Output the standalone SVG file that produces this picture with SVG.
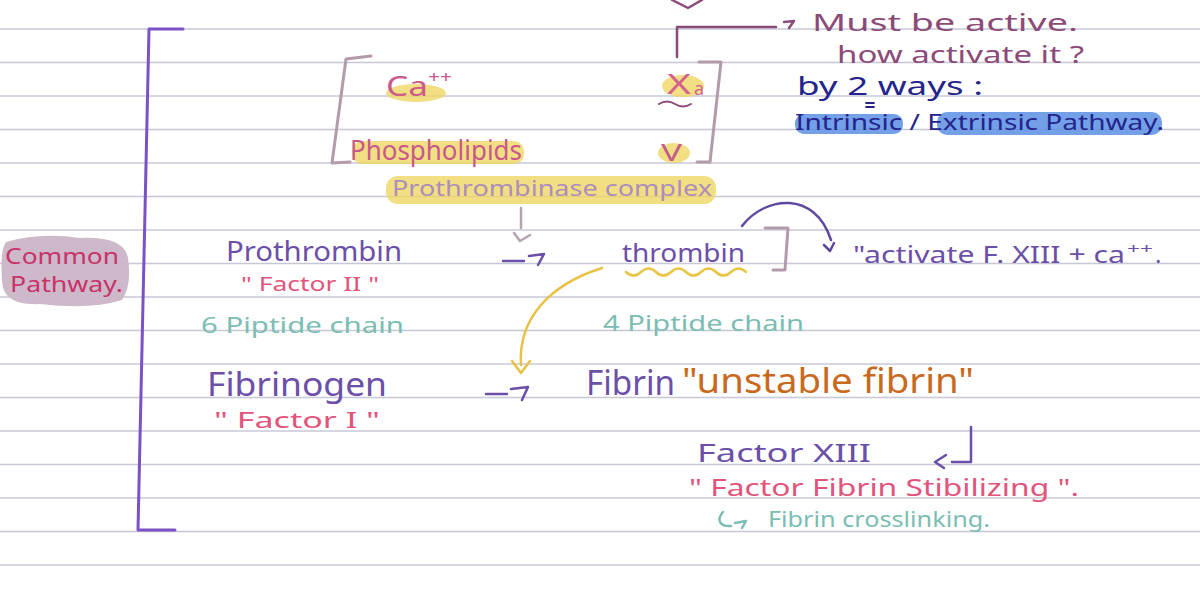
<svg xmlns="http://www.w3.org/2000/svg" width="1200" height="589" viewBox="0 0 1200 589">
<style>
text{font-family:"Noto Sans","DejaVu Sans",sans-serif;}
.rule{stroke:#c6c8d7;stroke-width:1.6;}
.pur{fill:#6b4fa8;}
.pink{fill:#e2547c;}
.teal{fill:#7bbdb3;}
.mag{fill:#8b4a77;}
.navy{fill:#24248c;}
.ln{fill:none;stroke-linecap:round;stroke-linejoin:round;}
.hl{fill:#efd45a;opacity:0.75;}
.bl{fill:#5b8fe3;opacity:0.85;}
</style>
<rect width="1200" height="589" fill="#ffffff"/>
<g id="rules">
<line class="rule" x1="0" y1="29" x2="1200" y2="29"/>
<line class="rule" x1="0" y1="62.5" x2="1200" y2="62.5"/>
<line class="rule" x1="0" y1="96" x2="1200" y2="96"/>
<line class="rule" x1="0" y1="129.5" x2="1200" y2="129.5"/>
<line class="rule" x1="0" y1="163" x2="1200" y2="163"/>
<line class="rule" x1="0" y1="196.5" x2="1200" y2="196.5"/>
<line class="rule" x1="0" y1="230" x2="1200" y2="230"/>
<line class="rule" x1="0" y1="263.5" x2="1200" y2="263.5"/>
<line class="rule" x1="0" y1="297" x2="1200" y2="297"/>
<line class="rule" x1="0" y1="330.5" x2="1200" y2="330.5"/>
<line class="rule" x1="0" y1="364" x2="1200" y2="364"/>
<line class="rule" x1="0" y1="397.5" x2="1200" y2="397.5"/>
<line class="rule" x1="0" y1="431" x2="1200" y2="431"/>
<line class="rule" x1="0" y1="464.5" x2="1200" y2="464.5"/>
<line class="rule" x1="0" y1="498" x2="1200" y2="498"/>
<line class="rule" x1="0" y1="531.5" x2="1200" y2="531.5"/>
<line class="rule" x1="0" y1="565" x2="1200" y2="565"/>
</g>
<g id="highlights">
<path d="M6 242 Q40 232 80 238 Q124 236 128 258 Q132 285 122 300 Q90 310 40 304 Q2 306 2 280 Q0 250 6 242 Z" fill="#cdb9c9"/>
<ellipse class="hl" cx="416" cy="93" rx="30" ry="9"/>
<rect class="hl" x="352" y="141" width="172" height="23" rx="10"/>
<ellipse class="hl" cx="683" cy="86" rx="21" ry="11"/>
<ellipse class="hl" cx="674" cy="153" rx="16" ry="10"/>
<rect class="hl" x="386" y="176" width="330" height="28" rx="12"/>
<rect class="bl" x="795" y="114" width="108" height="20" rx="9"/>
<rect class="bl" x="937" y="112" width="225" height="23" rx="10"/>
</g>
<g id="brackets">
<path class="ln" d="M183 29 L149 29 L138 530 L175 530" stroke="#7a52c6" stroke-width="3"/>
<path class="ln" d="M371 56 L346 59 L332 163 L350 162" stroke="#b39bac" stroke-width="3"/>
<path class="ln" d="M699 62 L721 62 L710 162 L697 162" stroke="#b39bac" stroke-width="3"/>
<path class="ln" d="M765 228 L788 228 L785 270 L773 270" stroke="#b39bac" stroke-width="3"/>
</g>
<g id="n-common"><text x="5" y="264" font-size="21" fill="#c8336a" textLength="114" lengthAdjust="spacingAndGlyphs">Common</text><text x="10" y="292" font-size="21" fill="#c8336a" textLength="113" lengthAdjust="spacingAndGlyphs">Pathway.</text></g>
<g id="n-ca"><text x="386" y="96" font-size="28" fill="#cc5a8a" textLength="42" lengthAdjust="spacingAndGlyphs">Ca</text><text x="428" y="83" font-size="16" fill="#cc5a8a" textLength="24" lengthAdjust="spacingAndGlyphs">++</text></g>
<g id="n-phospho"><text x="350" y="160" font-size="28" fill="#c9588a" textLength="172" lengthAdjust="spacingAndGlyphs">Phospholipids</text></g>
<g id="n-xa"><text x="667" y="94" font-size="28" fill="#d4618c" textLength="24" lengthAdjust="spacingAndGlyphs">X</text><text x="694" y="95" font-size="18" fill="#d4618c">a</text><path class="ln" d="M659 104 q8 -5 16 0 t16 0" stroke="#8b4a77" stroke-width="2"/></g>
<g id="n-v"><text x="661" y="161" font-size="24" fill="#c0608a" textLength="21" lengthAdjust="spacingAndGlyphs">V</text></g>
<g id="n-complex"><text x="392" y="196" font-size="22" fill="#ad8dbc" textLength="320" lengthAdjust="spacingAndGlyphs">Prothrombinase complex</text></g>
<g id="n-must"><text class="mag" x="812" y="31" font-size="24" textLength="266" lengthAdjust="spacingAndGlyphs">Must be active.</text><text class="mag" x="837" y="63" font-size="24" textLength="247" lengthAdjust="spacingAndGlyphs">how activate it ?</text></g>
<g id="n-ways"><text class="navy" x="797" y="95" font-size="26" textLength="186" lengthAdjust="spacingAndGlyphs">by 2 ways :</text><path class="ln" d="M866 103 L874 103 M866 107 L874 107" stroke="#24248c" stroke-width="1.8"/><text class="navy" x="795" y="130" font-size="22" textLength="369" lengthAdjust="spacingAndGlyphs">Intrinsic / Extrinsic Pathway.</text></g>
<g id="n-prothrombin"><text class="pur" x="226" y="261" font-size="28" textLength="176" lengthAdjust="spacingAndGlyphs">Prothrombin</text><text class="pink" x="241" y="291" font-size="20" textLength="138" lengthAdjust="spacingAndGlyphs">" Factor II "</text></g>
<g id="n-6chain"><text class="teal" x="201" y="333" font-size="22" textLength="203" lengthAdjust="spacingAndGlyphs">6 Piptide chain</text></g>
<g id="n-thrombin"><text class="pur" x="622" y="262" font-size="26" textLength="123" lengthAdjust="spacingAndGlyphs">thrombin</text><path class="ln" d="M626 272 q7.5 7 15 0 t15 0 t15 0 t15 0 t15 0 t15 0 t15 0 t15 0" stroke="#e8c545" stroke-width="2.5"/></g>
<g id="n-activate"><text class="pur" x="853" y="263" font-size="24" textLength="272" lengthAdjust="spacingAndGlyphs">"activate F. XIII + ca</text><text class="pur" x="1127" y="254" font-size="14" textLength="26" lengthAdjust="spacingAndGlyphs">++</text><text class="pur" x="1155" y="263" font-size="24">.</text></g>
<g id="n-4chain"><text class="teal" x="603" y="331" font-size="22" textLength="201" lengthAdjust="spacingAndGlyphs">4 Piptide chain</text></g>
<g id="n-fibrinogen"><text class="pur" x="207" y="396" font-size="32" textLength="180" lengthAdjust="spacingAndGlyphs">Fibrinogen</text><text class="pink" x="214" y="428" font-size="22" textLength="166" lengthAdjust="spacingAndGlyphs">" Factor I "</text></g>
<g id="n-fibrin"><text class="pur" x="586" y="395" font-size="34" textLength="89" lengthAdjust="spacingAndGlyphs">Fibrin</text><text x="682" y="393" font-size="34" fill="#c9691e" textLength="292" lengthAdjust="spacingAndGlyphs">"unstable fibrin"</text></g>
<g id="n-factor13"><text class="pur" x="697" y="462" font-size="26" textLength="174" lengthAdjust="spacingAndGlyphs">Factor XIII</text><text class="pink" x="689" y="496" font-size="24" textLength="390" lengthAdjust="spacingAndGlyphs">" Factor Fibrin Stibilizing ".</text><text class="teal" x="768" y="527" font-size="22" textLength="222" lengthAdjust="spacingAndGlyphs">Fibrin crosslinking.</text></g>
<g id="connectors">
<path class="ln" d="M672 0 L688 8 L702 0" stroke="#8b4a77" stroke-width="2.5"/>
<path class="ln" d="M677 57 L677 27 L776 27 M784 22 L794 21 L789 28" stroke="#8b4a77" stroke-width="2.5"/>
<path class="ln" d="M521 208 L521 228 M514 233 L520 241 L530 235" stroke="#b3a2b0" stroke-width="2.5"/>
<path class="ln" d="M503 261 L524 261 M529 256 L544 254 L538 265" stroke="#6b4fa8" stroke-width="2.5"/>
<path class="ln" d="M486 394 L507 394 M511 389 L528 387 L522 400" stroke="#6b4fa8" stroke-width="2.5"/>
<path class="ln" d="M742 226 C765 196 815 190 831 240 M824 245 L830 251 L834 243" stroke="#5f4a9e" stroke-width="2.5"/>
<path class="ln" d="M602 268 C548 285 518 320 521 365 M512 361 L521 373 L530 361" stroke="#e8c245" stroke-width="2.5"/>
<path class="ln" d="M971 427 L971 462 L952 462 M946 455 L935 462 L944 468" stroke="#6b4fa8" stroke-width="2.5"/>
<path class="ln" d="M723 512 C716 520 720 527 731 526 M735 523 L746 521 L742 528" stroke="#7bbdb3" stroke-width="2.5"/>
</g>
</svg>
